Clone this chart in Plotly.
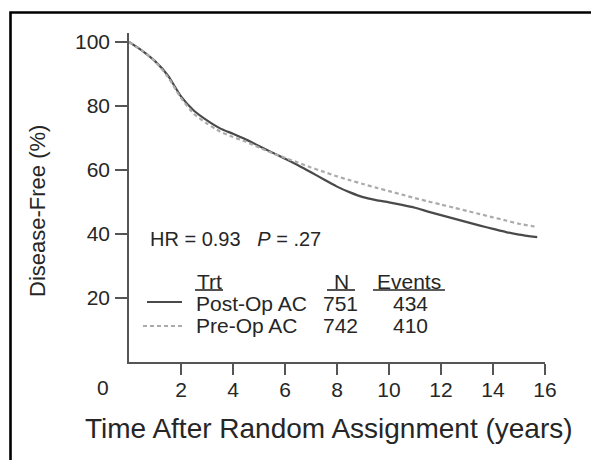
import plotly.graph_objects as go

# ---- data ----
years = [0, 0.5, 1.0, 1.5, 2.0, 2.5, 3.0, 3.5, 4.0, 4.5, 5.0, 5.5, 6.0, 6.5, 7.0, 7.5,
         8.0, 8.5, 9.0, 9.5, 10.0, 10.5, 11.0, 11.5, 12.0, 12.5, 13.0, 13.5, 14.0, 14.5, 15.0, 15.7]
post_op = [100, 97.3, 94.0, 89.5, 83.0, 78.5, 75.5, 73.0, 71.3, 69.5, 67.5, 65.5, 63.5, 61.5, 59.3, 57.0,
           54.8, 53.0, 51.5, 50.6, 49.9, 49.1, 48.2, 47.0, 45.9, 44.8, 43.7, 42.6, 41.6, 40.6, 39.8, 39.0]
pre_op = [100, 97.3, 94.0, 89.0, 82.5, 77.5, 74.5, 72.0, 70.3, 68.8, 67.0, 65.3, 63.8, 62.3, 60.8, 59.4,
          58.0, 56.8, 55.6, 54.5, 53.4, 52.3, 51.2, 50.2, 49.2, 48.2, 47.2, 46.2, 45.2, 44.2, 43.2, 42.2]
x_ticks = [2, 4, 6, 8, 10, 12, 14, 16]
y_ticks = [20, 40, 60, 80, 100]
trt_labels = ["Post-Op AC", "Pre-Op AC"]
n_values = [751, 742]
events = [434, 410]
hr_text = "HR = 0.93"
p_text = ".27"

W, H = 591, 460
L, R, T, B = 129, 545, 33, 362  # plot area pixel box


def P(px, py):
    """pixel -> paper coordinates"""
    return (px - L) / (R - L), (B - py) / (B - T)


FONT = "Liberation Sans, Arial, sans-serif"
TXT = "#262626"
AX = "#555555"

fig = go.Figure()
fig.add_trace(go.Scatter(x=years, y=post_op, mode="lines", name=trt_labels[0],
                         line=dict(color="#4a4a4a", width=2.2, shape="spline", smoothing=0.6)))
fig.add_trace(go.Scatter(x=years, y=pre_op, mode="lines", name=trt_labels[1],
                         line=dict(color="#ababab", width=2.2, dash="4px,3px", shape="spline", smoothing=0.6)))

shapes = []
ann = []

# frame (black border extending off the right / bottom edges)
x0, y0 = P(10.5, 470)
x1, y1 = P(600, 12.5)
shapes.append(dict(type="rect", xref="paper", yref="paper", x0=x0, y0=y0, x1=x1, y1=y1,
                   line=dict(color="black", width=2.6), layer="below"))

# axis titles
ax_, ay_ = P(329, 428)
ann.append(dict(text="Time After Random Assignment (years)", xref="paper", yref="paper",
                x=ax_, y=ay_, showarrow=False, xanchor="center", yanchor="middle",
                font=dict(family=FONT, size=28, color=TXT)))
tx, ty = P(37, 211)
ann.append(dict(text="Disease-Free (%)", xref="paper", yref="paper", x=tx, y=ty, textangle=-90,
                showarrow=False, xanchor="center", yanchor="middle",
                font=dict(family=FONT, size=22, color=TXT)))
# the lone "0" at the origin
zx, zy = P(103, 387)
ann.append(dict(text="0", xref="paper", yref="paper", x=zx, y=zy, showarrow=False,
                xanchor="center", yanchor="middle", font=dict(family=FONT, size=21, color=TXT)))

# HR / P statistics
hx, hy = P(148, 239)
ann.append(dict(text=f"{hr_text}   <i>P</i> = {p_text}", xref="paper", yref="paper", x=hx, y=hy,
                showarrow=False, xanchor="left", yanchor="middle",
                font=dict(family=FONT, size=20, color=TXT)))

# legend table
def txt(s, px, py, anchor, size=21):
    x, y = P(px, py)
    ann.append(dict(text=s, xref="paper", yref="paper", x=x, y=y, showarrow=False,
                    xanchor=anchor, yanchor="middle", font=dict(family=FONT, size=size, color=TXT)))

txt("Trt", 195, 281, "left")
txt("N", 341, 281, "center")
txt("Events", 409, 281, "center")
row_y = [303, 325]
for i in range(2):
    txt(trt_labels[i], 194, row_y[i], "left")
    txt(str(n_values[i]), 340, row_y[i], "center")
    txt(str(events[i]), 410, row_y[i], "center")

for (a, b) in [(195, 223), (327, 355), (373, 445)]:
    ux0, uy = P(a, 290)
    ux1, _ = P(b, 290)
    shapes.append(dict(type="line", xref="paper", yref="paper", x0=ux0, x1=ux1, y0=uy, y1=uy,
                       line=dict(color=TXT, width=1.6)))

sx0, sy = P(147, 302)
sx1, _ = P(182, 302)
shapes.append(dict(type="line", xref="paper", yref="paper", x0=sx0, x1=sx1, y0=sy, y1=sy,
                   line=dict(color="#4a4a4a", width=2)))
dx0, dy = P(143, 326)
dx1, _ = P(185, 326)
shapes.append(dict(type="line", xref="paper", yref="paper", x0=dx0, x1=dx1, y0=dy, y1=dy,
                   line=dict(color="#ababab", width=2, dash="4px,3px")))

fig.update_layout(
    width=W, height=H,
    margin=dict(l=L, r=W - R, t=T, b=H - B),
    paper_bgcolor="white", plot_bgcolor="white",
    showlegend=False,
    shapes=shapes, annotations=ann,
    font=dict(family=FONT, color=TXT),
)
fig.update_xaxes(range=[0, 16], tickvals=x_ticks, ticks="outside", ticklen=11, tickwidth=1.6,
                 tickcolor=AX, showline=True, linecolor=AX, linewidth=1.6, showgrid=False,
                 zeroline=False, tickfont=dict(family=FONT, size=21, color=TXT), fixedrange=True,
                 ticklabelstandoff=-3)
fig.update_yaxes(range=[0, 102.8], tickvals=y_ticks, ticks="outside", ticklen=12, tickwidth=1.6,
                 tickcolor=AX, showline=True, linecolor=AX, linewidth=1.6, showgrid=False,
                 zeroline=False, tickfont=dict(family=FONT, size=21, color=TXT), fixedrange=True,
                 ticklabelstandoff=1)

fig.write_html("out.html", config={"displayModeBar": False},
               post_script="document.body.style.margin='0';document.body.style.overflow='hidden';")
